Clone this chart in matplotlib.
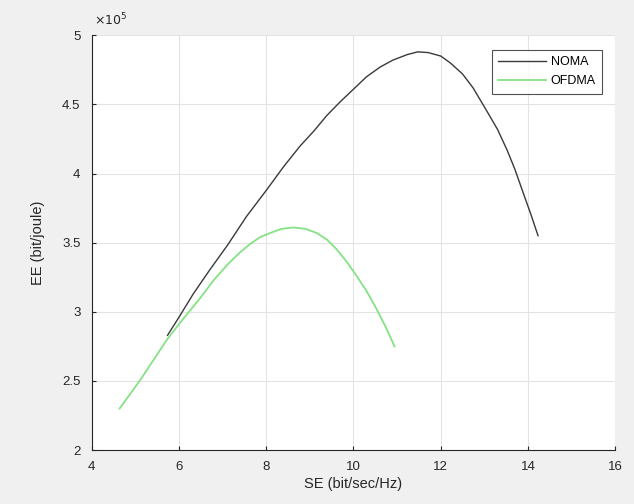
import matplotlib.pyplot as plt
from matplotlib.ticker import FuncFormatter

# values (EE in bit/joule)
noma_se = [5.74, 6.0, 6.33, 6.7, 7.11, 7.55, 8.03, 8.4, 8.78, 9.1, 9.39, 9.7, 10.0, 10.3, 10.61,
           10.9, 11.23, 11.47, 11.71, 12.0, 12.22, 12.5, 12.74, 13.06, 13.3, 13.52, 13.7,
           13.89, 14.06, 14.23]
noma_ee = [2.83e5, 2.96e5, 3.13e5, 3.30e5, 3.48e5, 3.69e5, 3.89e5, 4.05e5, 4.20e5, 4.31e5,
           4.42e5, 4.52e5, 4.61e5, 4.70e5, 4.77e5, 4.82e5, 4.86e5, 4.88e5, 4.875e5, 4.85e5,
           4.80e5, 4.72e5, 4.62e5, 4.45e5, 4.32e5, 4.17e5, 4.03e5, 3.86e5, 3.71e5, 3.55e5]

ofdma_se = [4.64, 5.10, 5.73, 6.1, 6.49, 6.8, 7.11, 7.4, 7.63, 7.86, 8.09, 8.35, 8.62, 8.9,
            9.16, 9.4, 9.62, 9.85, 10.07, 10.3, 10.53, 10.74, 10.94]
ofdma_ee = [2.30e5, 2.50e5, 2.80e5, 2.95e5, 3.10e5, 3.23e5, 3.34e5, 3.43e5, 3.49e5, 3.54e5,
            3.57e5, 3.60e5, 3.61e5, 3.60e5, 3.57e5, 3.52e5, 3.45e5, 3.36e5, 3.26e5, 3.15e5,
            3.02e5, 2.89e5, 2.75e5]

x_ticks = [4, 6, 8, 10, 12, 14, 16]
y_ticks = [2e5, 2.5e5, 3e5, 3.5e5, 4e5, 4.5e5, 5e5]

plt.rcParams['font.family'] = ['Liberation Sans', 'DejaVu Sans']

fig = plt.figure(figsize=(6.34, 5.04), dpi=100, facecolor='#f0f0f0')
ax = fig.add_axes([0.1445, 0.107, 0.826, 0.823])

ax.plot(noma_se, noma_ee, color='#3a3a3a', lw=1.0, label='NOMA')
ax.plot(ofdma_se, ofdma_ee, color='#85e285', lw=1.3, label='OFDMA')

ax.set_xlim(4, 16)
ax.set_ylim(2e5, 5e5)
ax.set_xticks(x_ticks)
ax.set_yticks(y_ticks)
ax.yaxis.set_major_formatter(FuncFormatter(lambda v, p: '%g' % (v / 1e5)))
ax.grid(True, color='#e3e3e3', lw=0.8)
ax.set_axisbelow(True)

for s in ['top', 'right']:
    ax.spines[s].set_visible(False)
for s in ['left', 'bottom']:
    ax.spines[s].set_color('#262626')
    ax.spines[s].set_linewidth(0.8)
ax.tick_params(direction='in', length=3, width=0.8, colors='#262626', labelsize=9.5)
ax.tick_params(axis='x', pad=8)
ax.tick_params(axis='y', pad=8)

ax.set_xlabel('SE (bit/sec/Hz)', fontsize=10.5, color='#262626', labelpad=3)
ax.set_ylabel('EE (bit/joule)', fontsize=10.5, color='#262626', labelpad=12)
ax.text(0.005, 1.018, r'$\times10^5$', transform=ax.transAxes, fontsize=9,
        color='#262626', ha='left', va='bottom')

leg = ax.legend(loc='upper right', fontsize=9, frameon=True, fancybox=False,
                handlelength=3.8, handletextpad=0.4, borderpad=0.5, labelspacing=0.55,
                borderaxespad=0, bbox_to_anchor=(0.975, 0.964))
leg.get_frame().set_edgecolor('#262626')
leg.get_frame().set_linewidth(0.8)

fig.savefig('out.png', dpi=100, facecolor=fig.get_facecolor())
